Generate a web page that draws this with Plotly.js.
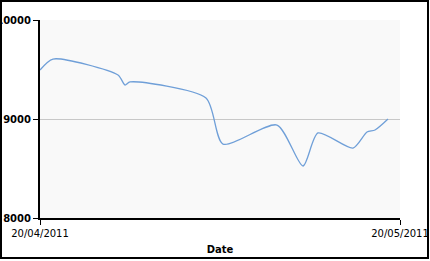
<!DOCTYPE html>
<html>
<head>
<meta charset="utf-8">
<script src="https://cdn.plot.ly/plotly-3.0.1.min.js"></script>
<style>
html,body{margin:0;padding:0;background:#fff;}
#wrap{position:relative;width:430px;height:261px;}
#chart{width:430px;height:261px;}
#frame{position:absolute;left:0;top:0;width:429px;height:259px;box-sizing:border-box;border:2px solid #000;pointer-events:none;}
</style>
</head>
<body>
<div id="wrap"><div id="chart"></div><div id="frame"></div></div>
<script>
const dates = [
  "2011-04-20 00:00","2011-04-21 02:00","2011-04-26 12:00","2011-04-27 02:00",
  "2011-04-27 12:00","2011-05-03 20:00","2011-05-05 06:00","2011-05-09 18:00",
  "2011-05-11 22:00","2011-05-13 04:00","2011-05-16 02:00","2011-05-17 06:00",
  "2011-05-17 22:00","2011-05-19 00:00"
];
const values = [9495,9606,9444,9343,9374,9212,8747,8939,8525,8859,8707,8869,8889,9000];
const xTickVals = ["2011-04-20","2011-05-20"];
const xTickText = ["20/04/2011","20/05/2011"];
const yTickVals = [8000,9000,10000];

Plotly.newPlot("chart",[{
  x: dates, y: values, type: "scatter", mode: "lines",
  line: {color: "#6f9fd8", width: 1.3, shape: "spline", smoothing: 0.7},
  hoverinfo: "skip"
}],{
  width: 430, height: 261,
  margin: {l: 40, r: 30, t: 20, b: 43, pad: 0},
  paper_bgcolor: "#ffffff",
  plot_bgcolor: "#f9f9f9",
  showlegend: false,
  font: {family: "DejaVu Sans", size: 10, color: "#000"},
  xaxis: {
    type: "date", range: ["2011-04-20","2011-05-20"],
    tickmode: "array", tickvals: xTickVals, ticktext: xTickText,
    ticks: "outside", ticklen: 5, tickcolor: "#000", tickwidth: 1,
    showgrid: true, gridcolor: "#c8c8c8", gridwidth: 1,
    showline: true, linecolor: "#000", linewidth: 2,
    zeroline: false,
    tickfont: {family: "DejaVu Sans", size: 10, color: "#000"},
    title: {text: "<b>Date</b>", font: {family: "DejaVu Sans", size: 10, color: "#000"}, standoff: 8},
    fixedrange: true
  },
  yaxis: {
    range: [8000,10000],
    tickmode: "array", tickvals: yTickVals, ticktext: yTickVals.map(v=>"<b>"+v+"</b>"),
    ticks: "outside", ticklen: 5, tickcolor: "#000", tickwidth: 1,
    showgrid: true, gridcolor: "#c8c8c8", gridwidth: 1,
    showline: true, linecolor: "#000", linewidth: 2,
    zeroline: false,
    tickfont: {family: "DejaVu Sans", size: 10, color: "#000"},
    fixedrange: true
  }
},{displayModeBar: false, staticPlot: true});
</script>
</body>
</html>
